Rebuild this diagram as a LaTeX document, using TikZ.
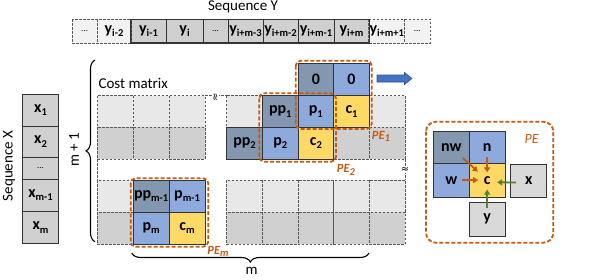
\documentclass[tikz,border=0pt]{standalone}
\usepackage{fontspec}
\setmainfont{Carlito}
\newfontfamily\djv{DejaVu Sans}
\usetikzlibrary{decorations.pathreplacing,calc,arrows.meta}
\definecolor{ppc}{HTML}{8497B0}
\definecolor{pcol}{HTML}{8EA9DB}
\definecolor{ccol}{HTML}{FFD966}
\definecolor{og}{HTML}{C55A11}
\definecolor{gg}{HTML}{548235}
\definecolor{lg}{HTML}{E8E8E8}
\definecolor{vlg}{HTML}{F2F2F2}
\definecolor{dg}{HTML}{D0D0D0}
\definecolor{xg}{HTML}{D9D9D9}
\definecolor{bl}{HTML}{4472C4}
\newcommand\lo[1]{\raisebox{-0.45ex}{\fontsize{10.5}{10.5}\selectfont #1}}
\tikzset{
  cellbox/.style={draw=black!80, line width=0.9pt, inner sep=0pt, font=\fontsize{16}{16}\selectfont\bfseries},
  fillonly/.style={inner sep=0pt, font=\fontsize{16}{16}\selectfont\bfseries},
  dsh/.style={draw=black!65, dash pattern=on 2.5pt off 1.5pt, line width=0.7pt},
  pebox/.style={draw=og, dash pattern=on 4pt off 2pt, line width=1.8pt, rounded corners=5pt},
  pelab/.style={text=og, font=\fontsize{12.5}{12.5}\selectfont\bfseries\itshape},
  oar/.style={draw=og, line width=1.8pt, -{Triangle[length=5pt,width=6pt]}},
  gar/.style={draw=gg, line width=1.8pt, -{Triangle[length=5pt,width=6pt]}},
  brc/.style={decorate, decoration={brace, amplitude=9pt}, line width=1.1pt},
  ttl/.style={font=\fontsize{15}{15}\selectfont}
}
\begin{document}
\begin{tikzpicture}[x=1pt,y=-1pt]
\useasboundingbox (0,0) rectangle (598,279);

% ---- Sequence Y
\node[ttl] (seqy) at (243,7) {Sequence Y};
\node[fillonly, fill=vlg, minimum width=24.7pt, minimum height=23.4pt] (yd1) at (84.65,31.2) {\fontsize{9}{9}\selectfont\normalfont ...};
\node[fillonly, fill=vlg, minimum width=34pt, minimum height=23.4pt] (ym2) at (114,31.2) {y\lo{i-2}};
\node[cellbox, fill=dg, minimum width=35pt, minimum height=23.4pt] (ym1) at (148.5,31.2) {y\lo{i-1}};
\node[cellbox, fill=dg, minimum width=37pt, minimum height=23.4pt] (yi) at (184.5,31.2) {y\lo{i}};
\node[cellbox, fill=dg, minimum width=25pt, minimum height=23.4pt] (yd2) at (215.5,31.2) {\fontsize{9}{9}\selectfont\normalfont ...};
\node[cellbox, fill=dg, minimum width=35pt, minimum height=23.4pt] (ym3) at (245.5,31.2) {y\lo{i+m-3}};
\node[cellbox, fill=dg, minimum width=35pt, minimum height=23.4pt] (ymm2) at (280.5,31.2) {y\lo{i+m-2}};
\node[cellbox, fill=dg, minimum width=36pt, minimum height=23.4pt] (ymm1) at (316,31.2) {y\lo{i+m-1}};
\node[cellbox, fill=dg, minimum width=35pt, minimum height=23.4pt] (yim) at (351.5,31.2) {y\lo{i+m}};
\node[fillonly, fill=vlg, minimum width=35.5pt, minimum height=23.4pt] (yp1) at (386.75,31.2) {y\lo{i+m+1}};
\node[fillonly, fill=vlg, minimum width=25.5pt, minimum height=23.4pt] (yd3) at (417.25,31.2) {\fontsize{9}{9}\selectfont\normalfont ...};
\draw[dsh] (yd1.north west) rectangle (ym2.south east);
\draw[dsh] (yd1.north east) -- (yd1.south east);
\draw[dsh] (yp1.north west) rectangle (yd3.south east);
\draw[dsh] (yp1.north east) -- (yp1.south east);
\draw[draw=black!80, line width=0.9pt] (ym1.north west) rectangle (yim.south east);

% ---- Sequence X
\node[ttl, rotate=90] (seqx) at (9,166) {Sequence X};
\node[cellbox, fill=dg, minimum width=35.6pt, minimum height=32pt] (x1) at (40.5,110) {x\lo{1}};
\node[cellbox, fill=dg, minimum width=35.6pt, minimum height=31.7pt] (x2) at (40.5,141.85) {x\lo{2}};
\node[cellbox, fill=dg, minimum width=35.6pt, minimum height=21.3pt] (xd) at (40.5,168.35) {\fontsize{9}{9}\selectfont\normalfont ...};
\node[cellbox, fill=dg, minimum width=35.6pt, minimum height=32.7pt] (xm1) at (40.5,195.35) {x\lo{m-1}};
\node[cellbox, fill=dg, minimum width=35.6pt, minimum height=31.6pt] (xm) at (40.5,227.5) {x\lo{m}};

% ---- Cost matrix grid
\node[ttl, anchor=west] (cm) at (95,83) {Cost matrix};
\foreach \xa in {97.3,133.2,169.1}{
  \draw[dsh, fill=lg] (\xa,95.7) rectangle ++(35.9,31.7);
  \draw[dsh, fill=dg] (\xa,127.4) rectangle ++(35.9,31.7);
  \draw[dsh, fill=lg] (\xa,180) rectangle ++(35.9,32.1);
  \draw[dsh, fill=dg] (\xa,212.1) rectangle ++(35.9,32.2);
}
\foreach \xa in {226.7,262.4,298.0,333.7,369.3}{
  \draw[dsh, fill=lg] (\xa,95.7) rectangle ++(35.7,31.7);
  \draw[dsh, fill=dg] (\xa,127.4) rectangle ++(35.7,31.7);
  \draw[dsh, fill=lg] (\xa,180) rectangle ++(35.7,32.1);
  \draw[dsh, fill=dg] (\xa,212.1) rectangle ++(35.7,32.2);
}
\draw[dsh] (97.3,159.1) -- (97.3,180);
\draw[dsh] (405,159.1) -- (405,180);
\draw[dsh] (205,95.7) -- (226.7,95.7);
\node[font=\djv\fontsize{10}{10}\selectfont, fill=white, inner sep=0.3pt, rotate=90] (brk1) at (216,97.5) {≈};
\node[font=\djv\fontsize{10}{10}\selectfont, fill=white, inner sep=0.3pt] (brk2) at (405,170) {≈};

% highlighted cells
\node[cellbox, fill=ppc, minimum width=35.7pt, minimum height=32pt] (z1) at (315.85,79.7) {0};
\node[cellbox, fill=pcol, minimum width=35.7pt, minimum height=32pt] (z2) at (351.55,79.7) {0};
\node[cellbox, fill=ppc, minimum width=35.7pt, minimum height=31.7pt] (pp1) at (280.25,111.55) {pp\lo{1}};
\node[cellbox, fill=pcol, minimum width=35.7pt, minimum height=31.7pt] (p1) at (315.85,111.55) {p\lo{1}};
\node[cellbox, fill=ccol, minimum width=35.7pt, minimum height=31.7pt] (c1) at (351.55,111.55) {c\lo{1}};
\node[cellbox, fill=ppc, minimum width=35.7pt, minimum height=31.7pt] (pp2) at (244.55,143.25) {pp\lo{2}};
\node[cellbox, fill=pcol, minimum width=35.7pt, minimum height=31.7pt] (p2) at (280.25,143.25) {p\lo{2}};
\node[cellbox, fill=ccol, minimum width=35.7pt, minimum height=31.7pt] (c2) at (315.85,143.25) {c\lo{2}};
\node[cellbox, fill=ppc, minimum width=35.9pt, minimum height=32.1pt] (ppm1) at (151.15,196.05) {pp\lo{m-1}};
\node[cellbox, fill=pcol, minimum width=35.9pt, minimum height=32.1pt] (pm1) at (187.05,196.05) {p\lo{m-1}};
\node[cellbox, fill=pcol, minimum width=35.9pt, minimum height=32.2pt] (pm) at (151.15,228.2) {p\lo{m}};
\node[cellbox, fill=ccol, minimum width=35.9pt, minimum height=32.2pt] (cm2) at (187.05,228.2) {c\lo{m}};

% PE boxes
\draw[pebox] (295.7,60.7) rectangle (371.7,129);
\draw[pebox] (259.3,93.3) rectangle (336,161.7);
\draw[pebox] (130.7,178.3) rectangle (208.3,246.7);
\node[pelab] (pe1) at (381,136.5) {PE\lo{1}};
\node[pelab] (pe2) at (346,170) {PE\lo{2}};
\node[pelab] (pem) at (218,251.5) {PE\lo{m}};

% blue arrow
\draw[fill=bl, draw=bl!70!black, line width=0.6pt] (377,75) -- (404.5,75) -- (404.5,72.5) -- (412,78.5) -- (404.5,84.5) -- (404.5,82) -- (377,82) -- cycle;

% braces
\draw[brc] (95,241.7) -- (95,60);
\node[ttl, rotate=90] (mp1) at (74,150) {m + 1};
\draw[brc] (369,253) -- (131.7,253);
\node[ttl, anchor=base, inner sep=0pt] (mlab) at (251.5,274.5) {m};

% PE detail
\draw[pebox, rounded corners=10pt] (426,121.7) rectangle (553.3,242.7);
\node[pelab, font=\fontsize{14}{14}\selectfont\itshape] (pet) at (531.7,139.3) {PE};
\node[cellbox, fill=ppc, minimum width=36pt, minimum height=31.6pt] (qnw) at (451.3,147.5) {nw};
\node[cellbox, fill=pcol, minimum width=35.7pt, minimum height=31.6pt] (qn) at (487.15,147.5) {n};
\node[cellbox, fill=pcol, minimum width=36pt, minimum height=33.7pt] (qw) at (451.3,180.15) {w};
\node[cellbox, fill=ccol, minimum width=35.7pt, minimum height=33.7pt] (qc) at (487.15,180.15) {c};
\node[cellbox, fill=xg, minimum width=36pt, minimum height=33.3pt] (qx) at (528.7,180.65) {x};
\node[cellbox, fill=xg, minimum width=35.7pt, minimum height=33.3pt] (qy) at (487.15,219.35) {y};
\draw[oar] ($(qnw.center)!0.32!(qc.center)$) -- ($(qnw.center)!0.74!(qc.center)$);
\draw[oar] ($(qn.center)!0.3!(qc.center)$) -- ($(qn.center)!0.76!(qc.center)$);
\draw[oar] ($(qw.center)!0.3!(qc.center)$) -- ($(qw.center)!0.75!(qc.center)$);
\draw[gar] ($(qx.center)!0.3!(qc.center)+(0,2)$) -- ($(qx.center)!0.76!(qc.center)+(0,2)$);
\draw[gar] ($(qy.center)!0.28!(qc.center)$) -- ($(qy.center)!0.76!(qc.center)$);
\end{tikzpicture}
\end{document}
